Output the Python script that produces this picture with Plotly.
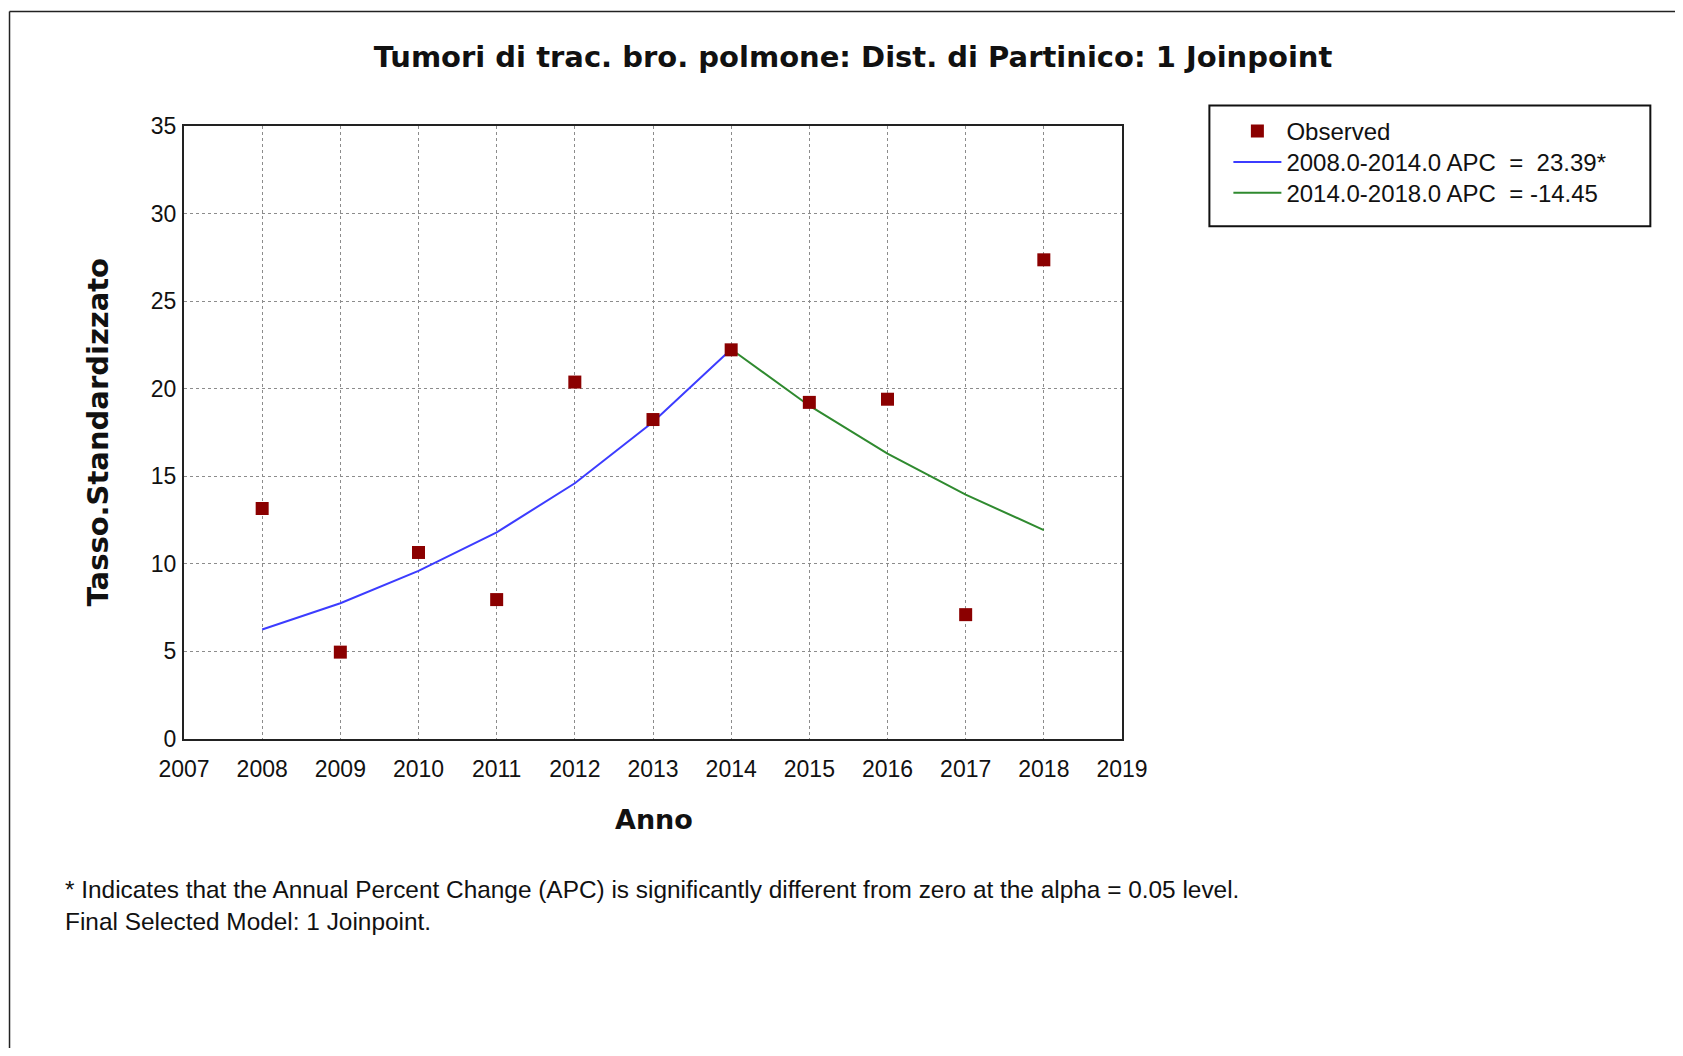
import plotly.graph_objects as go

# ---- data ----
years = [2008, 2009, 2010, 2011, 2012, 2013, 2014, 2015, 2016, 2017, 2018]
observed = [13.16, 4.96, 10.65, 7.96, 20.38, 18.24, 22.22, 19.22, 19.40, 7.10, 27.36]

seg1_years = [2008, 2009, 2010, 2011, 2012, 2013, 2014]
seg1_fit = [6.25, 7.75, 9.6, 11.8, 14.6, 18.1, 22.25]
seg2_years = [2014, 2015, 2016, 2017, 2018]
seg2_fit = [22.25, 19.03, 16.3, 13.95, 11.93]

x_ticks = list(range(2007, 2020))
y_ticks = [0, 5, 10, 15, 20, 25, 30, 35]

title_text = "Tumori di trac. bro. polmone: Dist. di Partinico: 1 Joinpoint"
y_title = "Tasso.Standardizzato"
x_title = "Anno"
legend_names = [
    "Observed",
    "2008.0-2014.0 APC\u00a0\u00a0=\u00a0\u00a023.39*",
    "2014.0-2018.0 APC\u00a0\u00a0= -14.45",
]
footnote = ("* Indicates that the Annual Percent Change (APC) is significantly different "
            "from zero at the alpha = 0.05 level.<br>Final Selected Model: 1 Joinpoint.")

# ---- layout geometry (window pixels; page body has an 8px margin) ----
OFF = 8
W, H = 1683 - 2 * OFF, 1056 - 2 * OFF
PL, PR, PT, PB = 183.5, 1121.6, 125.6, 739.5   # plot area in window pixels
ML = PL - OFF
MR = W - (PR - OFF)
MT = PT - OFF
MB = H - (PB - OFF)
PW = W - ML - MR
PH = H - MT - MB


def px(xw):
    return (xw - OFF - ML) / PW


def py(yw):
    return (H - MB - (yw - OFF)) / PH


REG = "Liberation Sans, Arial, sans-serif"
BOLD = "DejaVu Sans, Verdana, sans-serif"

fig = go.Figure()
fig.add_trace(go.Scatter(
    x=seg1_years, y=seg1_fit, mode="lines", name=legend_names[1],
    line=dict(color="#3c3cff", width=2), legend="legend2",
))
fig.add_trace(go.Scatter(
    x=seg2_years, y=seg2_fit, mode="lines", name=legend_names[2],
    line=dict(color="#2f8a2f", width=2), legend="legend3",
))
fig.add_trace(go.Scatter(
    x=years, y=observed, mode="markers", name=legend_names[0],
    marker=dict(symbol="square", size=13, color="#8b0000", line=dict(width=0)),
    legend="legend",
))

row_centers = [131, 162, 193]
LEG_X = 1228


def leg(rc):
    return dict(
        x=px(LEG_X), y=py(rc - 22.6), xanchor="left", yanchor="top",
        font=dict(family=REG, size=24, color="#111"),
        bgcolor="rgba(0,0,0,0)", borderwidth=0, itemwidth=48,
    )


fig.update_layout(
    width=W, height=H,
    margin=dict(l=ML, r=MR, t=MT, b=MB, pad=0),
    paper_bgcolor="white", plot_bgcolor="white",
    showlegend=True,
    legend=leg(row_centers[0]),
    legend2=leg(row_centers[1]),
    legend3=leg(row_centers[2]),
    title=dict(
        text=title_text, x=(853 - OFF) / W, y=1 - (57 - OFF) / H,
        xanchor="center", yanchor="middle", xref="container", yref="container",
        font=dict(family=BOLD, size=29, color="#111", weight="bold"),
    ),
    xaxis=dict(
        range=[2007, 2019], tickvals=x_ticks, ticktext=[str(v) for v in x_ticks],
        showgrid=True, gridcolor="#8c8c8c", griddash="dot", gridwidth=1,
        showline=True, linecolor="#222", linewidth=2, mirror=True,
        ticks="outside", ticklen=8, tickcolor="rgba(0,0,0,0)",
        tickfont=dict(family=REG, size=23, color="#111"),
        zeroline=False, fixedrange=True,
    ),
    yaxis=dict(
        range=[0, 35], tickvals=y_ticks, ticktext=[str(v) for v in y_ticks],
        showgrid=True, gridcolor="#8c8c8c", griddash="dot", gridwidth=1,
        showline=True, linecolor="#222", linewidth=2, mirror=True,
        ticks="outside", ticklen=1, tickcolor="rgba(0,0,0,0)",
        tickfont=dict(family=REG, size=23, color="#111"),
        zeroline=False, fixedrange=True,
    ),
)

# legend box, outer frame lines
fig.add_shape(type="rect", xref="paper", yref="paper",
              x0=px(1209), x1=px(1650), y0=py(226), y1=py(105),
              line=dict(color="#111", width=2), fillcolor="rgba(0,0,0,0)", layer="below")
fig.add_shape(type="line", xref="paper", yref="paper",
              x0=px(9), x1=px(1700), y0=py(11), y1=py(11),
              line=dict(color="#222", width=1.5))
fig.add_shape(type="line", xref="paper", yref="paper",
              x0=px(9), x1=px(9), y0=py(11), y1=py(1100),
              line=dict(color="#222", width=1.5))

# axis titles and footnote
fig.add_annotation(text=y_title, xref="paper", yref="paper", x=px(97), y=py(433),
                   textangle=-90, showarrow=False, xanchor="center", yanchor="middle",
                   font=dict(family=BOLD, size=29, color="#111", weight="bold"))
fig.add_annotation(text=x_title, xref="paper", yref="paper", x=px(654), y=py(820),
                   showarrow=False, xanchor="center", yanchor="middle",
                   font=dict(family=BOLD, size=27, color="#111", weight="bold"))
fig.add_annotation(text=footnote, xref="paper", yref="paper", x=px(62), y=py(906),
                   showarrow=False, xanchor="left", yanchor="middle", align="left",
                   font=dict(family=REG, size=24.4, color="#111"))

fig.write_html("out.html")
